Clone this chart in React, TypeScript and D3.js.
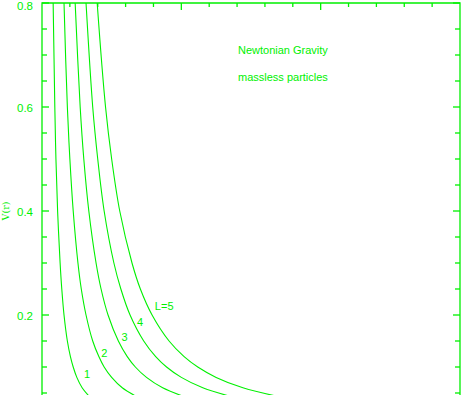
import React, { useEffect, useRef } from 'react'
import * as d3 from 'd3'

const vLevels = [0.85, 0.8, 0.6, 0.5, 0.4, 0.3, 0.25, 0.2, 0.15, 0.12, 0.1, 0.08, 0.06, 0.045]
// r positions of each curve at those levels
const curveL1 = [0.38, 0.40, 0.46, 0.50, 0.56, 0.65, 0.71, 0.79, 0.91, 1.02, 1.12, 1.25, 1.44, 1.67]
const curveL2 = [0.77, 0.79, 0.91, 1.00, 1.12, 1.29, 1.41, 1.58, 1.82, 2.04, 2.23, 2.50, 2.88, 3.33]
const curveL3 = [1.15, 1.19, 1.37, 1.50, 1.68, 1.94, 2.12, 2.37, 2.74, 3.06, 3.35, 3.75, 4.33, 5.00]
const curveL4 = [1.53, 1.58, 1.82, 2.00, 2.23, 2.58, 2.83, 3.16, 3.65, 4.08, 4.47, 5.00, 5.77, 6.66]
const curveL5 = [1.92, 1.98, 2.28, 2.50, 2.79, 3.23, 3.53, 3.95, 4.56, 5.10, 5.59, 6.25, 7.21, 8.33]
const curves = [curveL1, curveL2, curveL3, curveL4, curveL5]

const labelText = ['1', '2', '3', '4', 'L=5']
const labelR = [1.51, 2.13, 2.85, 3.41, 4.05]
const labelV = [0.079, 0.119, 0.150, 0.179, 0.210]

const yTicks = [0.2, 0.4, 0.6, 0.8]
const notes = ['Newtonian Gravity', 'massless particles']

const W = 461, H = 395
const green = '#00f000'

function App() {
  const ref = useRef<SVGSVGElement>(null)

  useEffect(() => {
    const svg = d3.select(ref.current)
    svg.selectAll('*').remove()

    const x = d3.scaleLinear().domain([0, 15]).range([42, 460])
    const y = d3.scaleLinear().domain([0, 0.8]).range([419, 3])

    svg.append('clipPath').attr('id', 'plotclip')
      .append('rect').attr('x', 42).attr('y', 3).attr('width', 418).attr('height', 416)

    const line = d3.line<number>()
      .x(d => x(d))
      .y((d, i) => y(vLevels[i]))
      .curve(d3.curveCatmullRom)

    svg.append('g').attr('clip-path', 'url(#plotclip)')
      .selectAll('path').data(curves).enter().append('path')
      .attr('d', d => line(d))
      .style('fill', 'none').style('stroke', green).style('stroke-width', 1.1)

    // frame
    const frame = svg.append('g').style('stroke', green).style('stroke-width', 1.3).style('fill', 'none')
    frame.append('path').attr('d', `M${x(0)},${y(0)}V${y(0.8)}H${x(15)}V${y(0)}`)

    // y ticks, inward on both sides
    const minorY = d3.range(1, 17).map(i => i * 0.05)
    minorY.forEach(v => {
      const major = Math.abs(v * 5 - Math.round(v * 5)) < 1e-6
      const len = major ? 7 : 5
      frame.append('line').attr('x1', x(0)).attr('x2', x(0) + len).attr('y1', y(v)).attr('y2', y(v))
      frame.append('line').attr('x1', x(15)).attr('x2', x(15) - len).attr('y1', y(v)).attr('y2', y(v))
    })
    // top ticks
    d3.range(1, 15).forEach(r => {
      const len = r % 5 === 0 ? 7 : 4
      frame.append('line').attr('x1', x(r)).attr('x2', x(r)).attr('y1', y(0.8)).attr('y2', y(0.8) + len)
    })

    const txt = svg.append('g').style('fill', green)
      .style('font-family', '"Liberation Sans", Arial, sans-serif')

    txt.selectAll('.ytick').data(yTicks).enter().append('text')
      .attr('x', 33).attr('y', d => Math.max(y(d) + 5, 9.5))
      .attr('text-anchor', 'end').style('font-size', '11.5px')
      .text(d => d.toFixed(1))

    txt.append('text')
      .attr('transform', 'translate(9,211) rotate(-90)')
      .attr('text-anchor', 'middle')
      .style('font-family', '"DejaVu Serif", serif').style('font-size', '9.5px')
      .text('V(r)')

    txt.selectAll('.lab').data(labelText).enter().append('text')
      .attr('x', (d, i) => x(labelR[i])).attr('y', (d, i) => y(labelV[i]))
      .style('font-size', '11px')
      .text(d => d)

    txt.selectAll('.note').data(notes).enter().append('text')
      .attr('x', 238).attr('y', (d, i) => 54 + i * 27)
      .style('font-size', '11px')
      .text(d => d)
  }, [])

  return (
    <svg ref={ref} width={W} height={H}
      style={{ position: 'absolute', left: 0, top: 0, background: 'white' }} />
  )
}

export default App
